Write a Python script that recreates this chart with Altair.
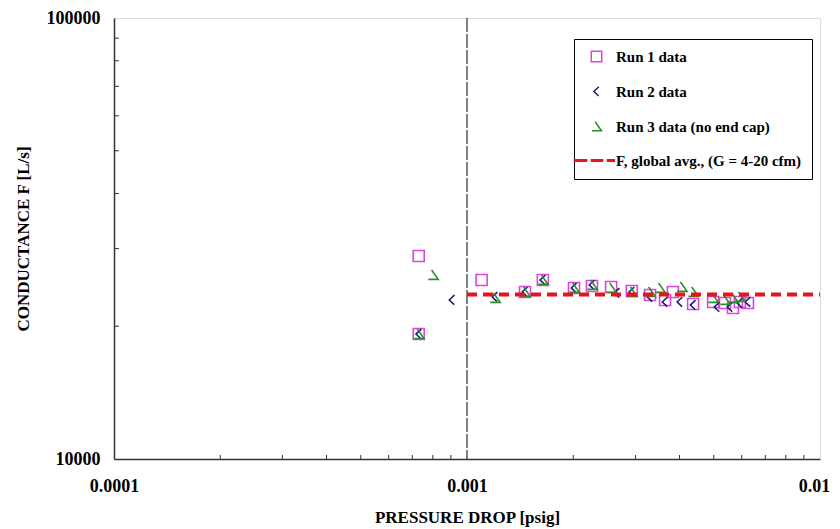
import altair as alt
import pandas as pd

# ---- data ----
series_names = ["Run 1 data", "Run 2 data", "Run 3 data (no end cap)",
                "F, global avg., (G = 4-20 cfm)"]

run1_p = [0.00073, 0.00073, 0.0011, 0.00146, 0.00164, 0.00201, 0.00226, 0.00256,
          0.00293, 0.0033, 0.00364, 0.00383, 0.00437, 0.00498, 0.00538, 0.00567,
          0.00593, 0.00625]
run1_f = [28860, 19200, 25460, 23920, 25460, 24420, 24680, 24550,
          24040, 23550, 22940, 23920, 22460, 22700, 22580, 22000,
          22700, 22580]

run2_p = [0.00073, 0.000907, 0.0012, 0.00146, 0.00164, 0.00201, 0.00226, 0.00266,
          0.00293, 0.0033, 0.00364, 0.00401, 0.00437, 0.00511, 0.00556, 0.00593,
          0.00625]
run2_f = [19200, 22940, 23300, 23920, 25460, 24420, 24810, 23790,
          23920, 23300, 22700, 22700, 22340, 22110, 22110, 22580,
          22700]

run3_p = [0.00073, 0.000801, 0.0012, 0.00146, 0.00164, 0.00201, 0.00226, 0.00256,
          0.00293, 0.0033, 0.00352, 0.00406, 0.00437, 0.00498, 0.00538, 0.00567,
          0.00593]
run3_f = [19200, 26140, 23180, 23920, 25460, 24420, 24810, 24420,
          23920, 23920, 24420, 24550, 23920, 23180, 22940, 23180,
          23300]

avg_f = 23600
avg_p_range = [0.001, 0.01]
divider_p = 0.001

x_labels = [0.0001, 0.001, 0.01]
y_labels = [10000, 100000]
x_minor = [0.0002, 0.0003, 0.0004, 0.0005, 0.0006, 0.0007, 0.0008, 0.0009,
           0.002, 0.003, 0.004, 0.005, 0.006, 0.007, 0.008, 0.009]
y_minor = [20000, 30000, 40000, 50000, 60000, 70000, 80000, 90000]

# ---- tables ----
rows = []
for name, ps, fs in [(series_names[0], run1_p, run1_f),
                     (series_names[1], run2_p, run2_f),
                     (series_names[2], run3_p, run3_f)]:
    for p, f in zip(ps, fs):
        rows.append({"P": p, "F": f, "series": name})
pts = pd.DataFrame(rows)
avg_df = pd.DataFrame({"P": [avg_p_range[0]], "P2": [avg_p_range[1]], "F": [avg_f]})
div_df = pd.DataFrame({"P": [divider_p]})
xm_df = pd.DataFrame({"P": x_minor})
ym_df = pd.DataFrame({"F": y_minor})

FONT = "Liberation Serif"
W, H = 706, 441

xscale = alt.Scale(type="log", domain=[0.0001, 0.01], nice=False)
yscale = alt.Scale(type="log", domain=[10000, 100000], nice=False)

xaxis = alt.Axis(values=x_labels, format="~g", ticks=False, grid=False,
                 labelFlush=False, labelFont=FONT, labelFontSize=18,
                 labelFontWeight="bold", labelColor="black", labelPadding=18,
                 labelOffset={"condition": {"test": "datum.value > 0.005", "value": -6},
                              "value": 0},
                 domainColor="#333", domainWidth=1.5,
                 title="PRESSURE DROP [psig]", titleFont=FONT,
                 titleFontSize=17, titleFontWeight="bold", titleColor="black",
                 titlePadding=14)
yaxis = alt.Axis(values=y_labels, format="d", ticks=False, grid=False,
                 labelFlush=False, labelFont=FONT, labelFontSize=18,
                 labelFontWeight="bold", labelColor="black", labelPadding=14,
                 domainColor="#333", domainWidth=1.5,
                 title="CONDUCTANCE F [L/s]", titleFont=FONT,
                 titleFontSize=17, titleFontWeight="bold", titleColor="black",
                 titlePadding=14)

colors = ["#DD44DD", "#1C1C78", "#2A8F2A", "#E8141B"]
chevron = "M0.45,-0.9L-0.5,0L0.4,0.85"
angle = "M-0.25,-0.9L0.95,0.8L-0.85,0.8"
dashsym = ("M-4.2,-0.15H-1.9V0.15H-4.2Z M-0.95,-0.15H1.15V0.15H-0.95Z "
           "M2.1,-0.15H3.4V0.15H2.1Z")
shapes = ["square", chevron, angle, dashsym]

legend = alt.Legend(
    title=None, orient="none", legendX=460, legendY=21,
    strokeColor="black", fillColor="white", padding=10,
    symbolSize=110, symbolStrokeWidth=1.5, symbolOffset=5,
    labelOffset=12, rowPadding=18,
    labelFont=FONT, labelFontSize=15, labelFontWeight="bold", labelColor="black",
    labelLimit=400,
)

points = alt.Chart(pts).mark_point(filled=False, size=121, strokeWidth=1.6, opacity=1).encode(
    x=alt.X("P:Q", scale=xscale, axis=xaxis),
    y=alt.Y("F:Q", scale=yscale, axis=yaxis),
    color=alt.Color("series:N", scale=alt.Scale(domain=series_names, range=colors),
                    legend=legend),
    shape=alt.Shape("series:N", scale=alt.Scale(domain=series_names, range=shapes),
                    legend=legend),
)

divider = alt.Chart(div_df).mark_rule(color="black", strokeWidth=1,
                                      strokeDash=[14, 2]).encode(
    x=alt.X("P:Q", scale=xscale, axis=xaxis),
)

avg_line = alt.Chart(avg_df).mark_rule(color="#E8141B", strokeWidth=4,
                                       strokeDash=[10, 6]).encode(
    x=alt.X("P:Q", scale=xscale, axis=xaxis),
    x2="P2:Q",
    y=alt.Y("F:Q", scale=yscale, axis=yaxis),
)

x_ticks = alt.Chart(xm_df).mark_rule(color="#333", strokeWidth=1).encode(
    x=alt.X("P:Q", scale=xscale, axis=xaxis),
    y=alt.value(H),
    y2=alt.value(H - 4),
)

y_ticks = alt.Chart(ym_df).mark_rule(color="#333", strokeWidth=1).encode(
    y=alt.Y("F:Q", scale=yscale, axis=yaxis),
    x=alt.value(0),
    x2=alt.value(5),
)

chart = alt.layer(points, divider, x_ticks, y_ticks, avg_line).properties(
    width=W, height=H,
    autosize=alt.AutoSizeParams(type="none"),
    padding={"left": 106, "top": 10, "right": 12, "bottom": 69},
).configure_view(stroke="#333", strokeWidth=1).configure(background="white")

chart.save("out.html", embed_options={"renderer": "svg", "actions": False})
